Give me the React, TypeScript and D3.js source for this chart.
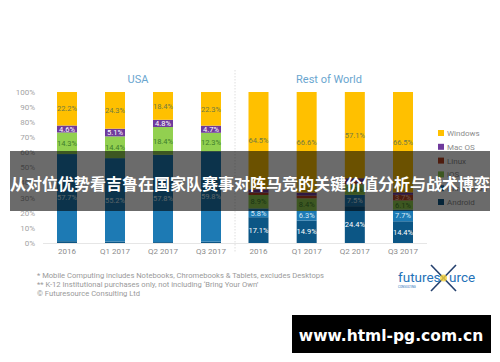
import * as d3 from "d3";

const quarters = ["2016", "Q1 2017", "Q2 2017", "Q3 2017"];
// stacking order, bottom to top
const osKeys = ["Android", "Chrome OS", "iOS", "Linux", "Mac OS", "Windows"];
const legendKeys = ["Windows", "Mac OS", "Linux", "iOS", "Chrome OS", "Android"];

const usaWindows = [22.2, 24.3, 18.4, 22.3];
const usaMac = [4.6, 5.1, 4.8, 4.7];
const usaLinux = [0, 0, 0, 0];
const usaIos = [14.3, 14.4, 18.4, 12.3];
const usaChrome = [57.7, 55.2, 57.8, 59.8];
const usaAndroid = [1.2, 1.0, 0.6, 0.9];

const rowWindows = [64.5, 66.6, 57.1, 66.5];
const rowMac = [2.1, 2.0, 2.4, 1.6];
const rowLinux = [1.6, 1.8, 1.6, 3.7];
const rowIos = [8.9, 8.4, 7.0, 6.1];
const rowChrome = [5.8, 6.3, 7.5, 7.7];
const rowAndroid = [17.1, 14.9, 24.4, 14.4];

const yTicks = [0, 10, 20, 30, 40, 50, 60, 70, 80, 90, 100];

const footnotes = [
  "* Mobile Computing includes Notebooks, Chromebooks & Tablets, excludes Desktops",
  "** K-12 Institutional purchases only, not including \u2018Bring Your Own\u2019",
  "\u00a9 Futuresource Consulting Ltd",
];

const COLORS: Record<string, string> = {
  Windows: "#ffc000",
  "Mac OS": "#6f3a9c",
  Linux: "#b9401f",
  iOS: "#92d050",
  "Chrome OS": "#1d7ab4",
  Android: "#0c5685",
};
const LABEL_COLORS: Record<string, string> = {
  Windows: "#707a45",
  "Mac OS": "#ffffff",
  Linux: "#f6c9b8",
  iOS: "#3e7d2c",
  "Chrome OS": "#d8eaf6",
  Android: "#ffffff",
};

function table(cols: Record<string, number[]>) {
  return quarters.map((q, i) => {
    const row: any = { q };
    osKeys.forEach((k) => (row[k] = cols[k][i]));
    return row;
  });
}

const usaRows = table({
  Windows: usaWindows, "Mac OS": usaMac, Linux: usaLinux,
  iOS: usaIos, "Chrome OS": usaChrome, Android: usaAndroid,
});
const rowRows = table({
  Windows: rowWindows, "Mac OS": rowMac, Linux: rowLinux,
  iOS: rowIos, "Chrome OS": rowChrome, Android: rowAndroid,
});

const FONT = "Roboto, 'Open Sans', sans-serif";
const y = d3.scaleLinear().domain([0, 100]).range([243, 92]);
const BAR_W = 20;

function Panel({ rows, x0, x1, title, titleX }: { rows: any[]; x0: number; x1: number; title: string; titleX: number }) {
  const x = d3.scalePoint<string>().domain(quarters).range([x0, x1]);
  const series = d3.stack<any>().keys(osKeys)(rows);
  return (
    <g>
      <text x={titleX} y={83} textAnchor="middle" fontSize={11} fill="#6aa6cf" fontFamily={FONT}>{title}</text>
      <line x1={x0 - 24} x2={x1 + 24} y1={y(0) + 0.5} y2={y(0) + 0.5} stroke="#e6e6e6" strokeWidth={1} />
      {series.map((s) => (
        <g key={s.key}>
          {s.map((d, i) => (
            <rect key={i} x={x(quarters[i])! - BAR_W / 2} width={BAR_W} y={y(d[1])} height={Math.max(0, y(d[0]) - y(d[1]))} fill={COLORS[s.key]} />
          ))}
          {s.map((d, i) => {
            const v = d[1] - d[0];
            if (v < 3) return null;
            return (
              <text key={"t" + i} x={x(quarters[i])!} y={(y(d[0]) + y(d[1])) / 2 + 2.7} textAnchor="middle" fontSize={7.5} fill={LABEL_COLORS[s.key]} fontFamily={FONT}>
                {v.toFixed(1)}%
              </text>
            );
          })}
        </g>
      ))}
      {quarters.map((q) => (
        <text key={q} x={x(q)!} y={254} textAnchor="middle" fontSize={8} fill="#8c8c8c" fontFamily={FONT}>{q}</text>
      ))}
    </g>
  );
}

export default function App() {
  return (
    <svg width={500} height={362} style={{ position: "absolute", left: 0, top: 0, background: "#fff" }}>
      <rect width={500} height={362} fill="#fff" />
      {yTicks.map((t) => (
        <text key={t} x={35} y={y(t) + 2.8} textAnchor="end" fontSize={8} fill="#a3a3a3" fontFamily={FONT}>{t}%</text>
      ))}
      <Panel rows={usaRows} x0={67} x1={211} title="USA" titleX={138} />
      <line x1={235} x2={235} y1={70} y2={252} stroke="#d6d6d6" strokeWidth={0.8} strokeDasharray="1.5,1.5" />
      <Panel rows={rowRows} x0={258.5} x1={403} title="Rest of World" titleX={329} />

      {legendKeys.map((k, i) => (
        <g key={k} transform={`translate(438,${133 + i * 13.8})`}>
          <rect x={0} y={-3} width={6} height={6} fill={COLORS[k]} />
          <text x={9} y={3} fontSize={8} fill="#8c8c8c" fontFamily={FONT}>{k}</text>
        </g>
      ))}

      {footnotes.map((f, i) => (
        <text key={i} x={37} y={278 + i * 9.2} fontSize={7.6} fill="#9a9a9a" fontFamily={FONT}>{f}</text>
      ))}

      {/* futuresource logo */}
      <g fontFamily={FONT}>
        <line x1={431} y1={265} x2={456} y2={291} stroke="#24406e" strokeWidth={1.6} />
        <line x1={456} y1={265} x2={431} y2={291} stroke="#24406e" strokeWidth={1.6} />
        <circle cx={443.5} cy={278} r={3.5} fill="#f7d23a" opacity={0.8} />
        <text x={398} y={282} fontSize={13.5} fill="#1f72b8">futures</text>
        <text x={449} y={282} fontSize={13.5} fill="#1f72b8">urce</text>
        <text x={398} y={287.5} fontSize={3} fill="#1f72b8">CONSULTING</text>
      </g>

      {/* title banner */}
      <rect x={10} y={151} width={480} height={60} fill="#000" opacity={0.58} />
      <text x={250} y={189.5} textAnchor="middle" fontSize={16} fontWeight="bold" fill="#fff" fontFamily="'Noto Sans CJK SC', sans-serif">
        从对位优势看吉鲁在国家队赛事对阵马竞的关键价值分析与战术博弈
      </text>

      <rect x={292} y={315} width={199} height={38} fill="#000" />
      <text x={391} y={341} textAnchor="middle" fontSize={15.5} fontWeight="bold" fill="#fff" fontFamily="'DejaVu Sans', sans-serif">
        www.html-pg.com.cn
      </text>
    </svg>
  );
}
